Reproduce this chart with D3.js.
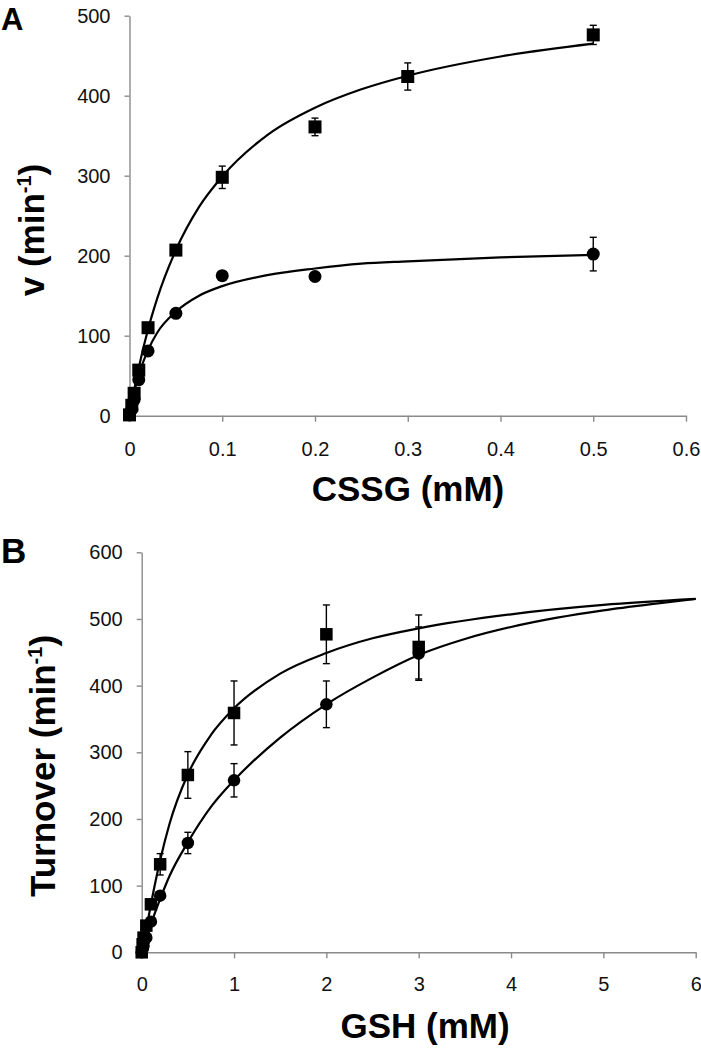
<!DOCTYPE html>
<html>
<head>
<meta charset="utf-8">
<script src="https://cdn.jsdelivr.net/npm/d3@7"></script>
<style>
  body { margin: 0; background: #fff; }
  svg { display: block; }
  text { font-family: "Liberation Sans", Arial, sans-serif; }
</style>
</head>
<body>
<svg id="chart" width="701" height="1050"></svg>
<script>
// ---- panel A: CSSG ----
const aXTicks = [0, 0.1, 0.2, 0.3, 0.4, 0.5, 0.6];
const aXLabels = ["0", "0.1", "0.2", "0.3", "0.4", "0.5", "0.6"];
const aYTicks = [0, 100, 200, 300, 400, 500];

const aSquareX = [0, 0.0025, 0.005, 0.01, 0.02, 0.05, 0.1, 0.2, 0.3, 0.5];
const aSquareV = [1, 13, 28, 57, 110, 207, 298, 361, 424, 476];
const aSquareErr = [0, 0, 0, 0, 0, 0, 14, 11, 17, 12];

const aCircleX = [0, 0.0025, 0.005, 0.01, 0.02, 0.05, 0.1, 0.2, 0.5];
const aCircleV = [1, 8, 20, 45, 81, 128, 175, 174, 202];
const aCircleErr = [0, 0, 0, 0, 0, 0, 0, 0, 21];

const aFitX = [0, 0.005, 0.01, 0.02, 0.03, 0.05, 0.075, 0.1, 0.15, 0.2, 0.25, 0.3, 0.4, 0.5];
const aFitSquare = [0, 32, 60, 108, 147, 207, 261, 299, 352, 385, 408, 425, 449, 465];
const aFitCircle = [0, 29, 51, 82, 104, 130, 150, 162, 176, 184, 190, 193, 198, 201];

// ---- panel B: GSH ----
const bXTicks = [0, 1, 2, 3, 4, 5, 6];
const bXLabels = ["0", "1", "2", "3", "4", "5", "6"];
const bYTicks = [0, 100, 200, 300, 400, 500, 600];

const bSquareX = [0, 0.01, 0.02, 0.05, 0.1, 0.2, 0.5, 1, 2, 3];
const bSquareV = [0, 12, 22, 40, 72, 132, 266, 359, 477, 458];
const bSquareErr = [0, 0, 0, 0, 0, 16, 35, 48, 44, 48];

const bCircleX = [0, 0.01, 0.02, 0.05, 0.1, 0.2, 0.5, 1, 2, 3];
const bCircleV = [0, 5, 10, 22, 46, 85, 164, 258, 372, 448];
const bCircleErr = [0, 0, 0, 0, 0, 0, 16, 25, 35, 40];

const bFitSquareX = [0, 0.05, 0.1, 0.2, 0.3, 0.5, 0.75, 1, 1.5, 2, 2.5, 3, 4, 5, 6];
const bFitSquare = [0, 35, 72, 138, 192, 267, 326, 366, 418, 449, 471, 486, 507, 521, 530];
const bFitCircleX = [0, 0.05, 0.1, 0.2, 0.3, 0.5, 0.75, 1, 1.5, 2, 2.5, 3, 3.5, 4, 4.5, 5, 5.5, 6];
const bFitCircle = [0, 21, 42, 80, 114, 165, 218, 258, 322, 372, 412, 446, 470, 488, 502, 513, 522, 530];

const svg = d3.select("#chart");
const axisColor = "#8a8a8a";

function drawPanel(p) {
    const x = d3.scaleLinear().domain(p.xDomain).range(p.xRange);
    const y = d3.scaleLinear().domain(p.yDomain).range(p.yRange);
    const g = svg.append("g");

    // axes
    const xAxis = g.append("g")
        .attr("transform", "translate(0," + y(0) + ")")
        .call(d3.axisBottom(x).tickValues(p.xTicks)
            .tickFormat((d, i) => p.xLabels[i])
            .tickSizeInner(6).tickSizeOuter(0).tickPadding(p.xPad));
    const yAxis = g.append("g")
        .attr("transform", "translate(" + x(0) + ",0)")
        .call(d3.axisLeft(y).tickValues(p.yTicks)
            .tickSizeInner(5).tickSizeOuter(0).tickPadding(14));
    [xAxis, yAxis].forEach(a => {
        a.select(".domain").attr("stroke", axisColor).attr("stroke-width", 1.4);
        a.selectAll(".tick line").attr("stroke", axisColor).attr("stroke-width", 1.4);
        a.selectAll(".tick text")
            .attr("fill", "#111")
            .style("font-size", "20px")
            .style("font-family", "'Liberation Sans', Arial, sans-serif");
    });
    xAxis.selectAll(".tick").filter(d => d === 0).select("line").remove();

    // fitted curves
    const line = d3.line()
        .x(d => x(d[0]))
        .y(d => y(d[1]))
        .curve(d3.curveMonotoneX);
    p.fits.forEach(f => {
        g.append("path")
            .datum(d3.zip(f.x, f.v))
            .attr("d", line)
            .attr("fill", "none")
            .attr("stroke", "#000")
            .attr("stroke-width", 2.2);
    });

    // error bars + markers
    p.series.forEach(s => {
        const pts = s.x.map((d, i) => ({ x: d, v: s.v[i], e: s.err[i] }));
        const eb = g.append("g").selectAll("g")
            .data(pts.filter(d => d.e > 0))
            .join("g")
            .attr("stroke", "#000")
            .attr("stroke-width", 1.4);
        eb.append("line")
            .attr("x1", d => x(d.x)).attr("x2", d => x(d.x))
            .attr("y1", d => y(d.v + d.e)).attr("y2", d => y(d.v - d.e));
        eb.append("line")
            .attr("x1", d => x(d.x) - 3.5).attr("x2", d => x(d.x) + 3.5)
            .attr("y1", d => y(d.v + d.e)).attr("y2", d => y(d.v + d.e));
        eb.append("line")
            .attr("x1", d => x(d.x) - 3.5).attr("x2", d => x(d.x) + 3.5)
            .attr("y1", d => y(d.v - d.e)).attr("y2", d => y(d.v - d.e));

        if (s.shape === "square") {
            g.append("g").selectAll("rect")
                .data(pts)
                .join("rect")
                .attr("x", d => x(d.x) - s.size / 2)
                .attr("y", d => y(d.v) - s.size / 2)
                .attr("width", s.size)
                .attr("height", s.size)
                .attr("fill", "#000");
        } else {
            g.append("g").selectAll("circle")
                .data(pts)
                .join("circle")
                .attr("cx", d => x(d.x))
                .attr("cy", d => y(d.v))
                .attr("r", s.size / 2)
                .attr("fill", "#000");
        }
    });

    // titles
    g.append("text")
        .attr("x", p.xTitlePos[0]).attr("y", p.xTitlePos[1])
        .attr("text-anchor", "middle")
        .style("font-size", "35px").style("font-weight", "bold")
        .text(p.xTitle);

    const yt = g.append("text")
        .attr("transform", "translate(" + p.yTitlePos[0] + "," + p.yTitlePos[1] + ") rotate(-90)")
        .attr("text-anchor", "middle")
        .style("font-size", "35px").style("font-weight", "bold");
    yt.append("tspan").text(p.yTitle + " (min");
    yt.append("tspan").attr("dy", -13).style("font-size", "20px").text("-1");
    yt.append("tspan").attr("dy", 13).text(")");

    g.append("text")
        .attr("x", p.letterPos[0]).attr("y", p.letterPos[1])
        .style("font-size", p.letterSize).style("font-weight", "bold")
        .text(p.letter);
}

drawPanel({
    letter: "A", letterPos: [1, 30], letterSize: "31px",
    xDomain: [0, 0.6], xRange: [129.5, 686],
    yDomain: [0, 500], yRange: [415.7, 15.7],
    xTicks: aXTicks, xLabels: aXLabels, yTicks: aYTicks, xPad: 20,
    xTitle: "CSSG (mM)", xTitlePos: [408, 501],
    yTitle: "v", yTitlePos: [44, 230],
    fits: [{ x: aFitX, v: aFitSquare }, { x: aFitX, v: aFitCircle }],
    series: [
        { shape: "circle", x: aCircleX, v: aCircleV, err: aCircleErr, size: 13 },
        { shape: "square", x: aSquareX, v: aSquareV, err: aSquareErr, size: 13 }
    ]
});

drawPanel({
    letter: "B", letterPos: [1, 563], letterSize: "35px",
    xDomain: [0, 6], xRange: [141.7, 695.7],
    yDomain: [0, 600], yRange: [952.3, 552.3],
    xTicks: bXTicks, xLabels: bXLabels, yTicks: bYTicks, xPad: 19,
    xTitle: "GSH (mM)", xTitlePos: [425, 1038],
    yTitle: "Turnover", yTitlePos: [55, 766],
    fits: [{ x: bFitSquareX, v: bFitSquare }, { x: bFitCircleX, v: bFitCircle }],
    series: [
        { shape: "circle", x: bCircleX, v: bCircleV, err: bCircleErr, size: 12.5 },
        { shape: "square", x: bSquareX, v: bSquareV, err: bSquareErr, size: 12.5 }
    ]
});
</script>
</body>
</html>
